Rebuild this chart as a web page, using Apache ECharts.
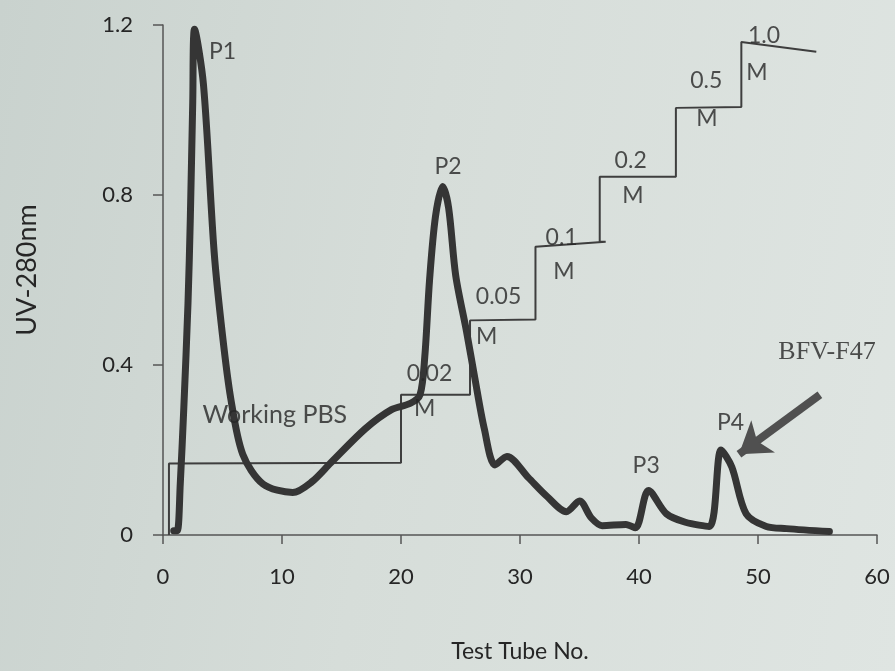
<!DOCTYPE html>
<html>
<head>
<meta charset="utf-8">
<script src="https://cdn.jsdelivr.net/npm/echarts@6/dist/echarts.min.js"></script>
<style>
html,body{margin:0;padding:0;}
body{width:895px;height:671px;background:linear-gradient(100deg,#c9d2ce 0%,#d6ddd9 45%,#dfe5e2 100%);}
#chart{width:895px;height:671px;}
</style>
</head>
<body>
<div id="chart"></div>
<script>
// UV-280nm absorbance trace (tube number, absorbance)
const uvTube = [0.9,1.2,1.45,1.75,2.1,2.3,2.5,2.65,3.4,4.3,5.0,5.7,6.7,8.4,10.9,12.5,14.1,17.0,19.2,20.8,21.6,22.0,22.4,22.9,23.5,24.0,24.6,25.5,26.2,27.0,27.9,28.9,30.7,32.3,33.9,35.0,36.0,36.9,38.9,39.7,40.8,42.3,43.9,45.9,46.9,47.8,49.0,50.7,52.4,56.0];
const uvValue = [0.01,0.01,0.12,0.3,0.545,0.75,1.02,1.19,1.06,0.665,0.47,0.32,0.19,0.12,0.10,0.125,0.17,0.25,0.295,0.31,0.33,0.42,0.6,0.75,0.82,0.77,0.61,0.48,0.37,0.25,0.165,0.185,0.135,0.09,0.055,0.08,0.04,0.022,0.025,0.017,0.105,0.05,0.03,0.02,0.20,0.16,0.05,0.02,0.015,0.008];
// Step gradient line (tube, level)
const stepTube = [0.5,0.5,20.0,20.0,25.8,25.8,31.3,31.3,37.2,36.7,36.7,43.1,43.1,48.6,48.6,54.9];
const stepValue = [0,0.168,0.17,0.33,0.33,0.505,0.507,0.678,0.69,0.69,0.843,0.843,1.005,1.007,1.16,1.137];
// Axis ticks
const xTicks = [0,10,20,30,40,50,60];
const yTicks = [0,0.4,0.8,1.2];
// Annotations (tube, absorbance, text)
const annoTube = [5.0,23.95,40.6,47.7,22.4,22.0,28.2,27.2,33.5,33.7,39.3,39.5,45.65,45.7,50.5,49.9,9.4];
const annoValue = [1.137,0.866,0.164,0.265,0.38,0.298,0.56,0.468,0.70,0.62,0.88,0.798,1.07,0.98,1.175,1.088,0.283];
const annoText = ['P1','P2','P3','P4','0.02','M','0.05','M','0.1','M','0.2','M','0.5','M','1.0','M','Working PBS'];
const calloutTube = [55.8];
const calloutValue = [0.43];
const calloutText = ['BFV-F47'];
const arrowFrom = [55.2,0.33];
const arrowTo = [48.4,0.19];

const uvData = uvTube.map((t,i)=>[t,uvValue[i]]);
const stepData = stepTube.map((t,i)=>[t,stepValue[i]]);
const annoData = annoTube.map((t,i)=>({value:[t,annoValue[i]],label:{formatter:annoText[i],fontSize: annoText[i]==='Working PBS'?25:23}}));
const calloutData = calloutTube.map((t,i)=>({value:[t,calloutValue[i]],label:{formatter:calloutText[i]}}));

const chart = echarts.init(document.getElementById('chart'));
const txt = '#262626';
chart.setOption({
  backgroundColor:'transparent',
  animation:false,
  grid:{left:163,right:18,top:25,bottom:136},
  xAxis:{
    type:'value',min:0,max:60,interval:10,
    name:'Test Tube No.',nameLocation:'middle',nameGap:105,
    nameTextStyle:{fontFamily:'Lato',fontSize:23,color:txt},
    axisLine:{show:true,lineStyle:{color:'#555',width:1.5}},
    axisTick:{show:true,length:9,lineStyle:{color:'#555',width:1.5}},
    axisLabel:{margin:31,fontFamily:'Lato',fontSize:22,color:txt,
      formatter:v=>xTicks.includes(v)?String(v):''},
    splitLine:{show:false}
  },
  yAxis:{
    type:'value',min:0,max:1.2,interval:0.4,
    name:'UV-280nm',nameLocation:'middle',nameGap:122,
    nameTextStyle:{fontFamily:'Lato',fontSize:27,color:txt,padding:[0,0,0,20]},
    axisLine:{show:true,lineStyle:{color:'#555',width:1.5}},
    axisTick:{show:true,length:10,lineStyle:{color:'#555',width:1.5}},
    axisLabel:{margin:30,fontFamily:'Lato',fontSize:22,color:txt,
      formatter:v=>{const f=yTicks.find(t=>Math.abs(t-v)<1e-9);return f===undefined?'':(f===0?'0':f.toFixed(1));}},
    splitLine:{show:false}
  },
  series:[
    {type:'line',data:stepData,symbol:'none',z:2,
      lineStyle:{color:'#3e3e3e',width:2}},
    {type:'line',data:uvData,symbol:'none',smooth:0.3,z:3,
      lineStyle:{color:'#353535',width:7,cap:'round',join:'round'},
      markLine:{silent:true,symbol:['none','arrow'],symbolSize:30,
        lineStyle:{color:'#505050',width:8,type:'solid'},label:{show:false},
        emphasis:{disabled:true},
        data:[[{coord:arrowFrom},{coord:arrowTo}]]}},
    {type:'scatter',data:annoData,symbolSize:0,z:4,
      label:{show:true,position:'inside',fontFamily:'Lato',color:txt}},
    {type:'scatter',data:calloutData,symbolSize:0,z:4,
      label:{show:true,position:'inside',fontFamily:'Liberation Serif',fontSize:26,color:txt}}
  ]
});
</script>
</body>
</html>
